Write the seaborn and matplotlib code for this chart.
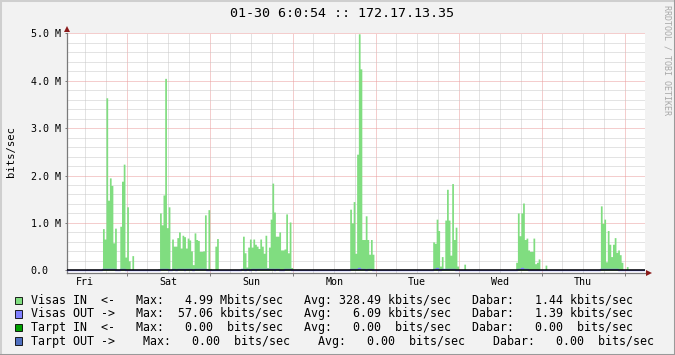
import numpy as np
import pandas as pd
import matplotlib
matplotlib.use("Agg")
import matplotlib.pyplot as plt
from matplotlib.patches import Rectangle
from matplotlib.lines import Line2D
from matplotlib.ticker import FixedLocator, FixedFormatter, MultipleLocator
import seaborn as sns

# ---------------- data (hours since first Friday 00:00, 30-min samples, Mbit/s) -------------
TITLE = "01-30 6:0:54 :: 172.17.13.35"
Y_LABEL = "bits/sec"
WATERMARK = "RRDTOOL / TOBI OETIKER"
day_labels = ["Fri", "Sat", "Sun", "Mon", "Tue", "Wed", "Thu"]
day_noons = [12, 36, 60, 84, 108, 132, 156]
y_ticks = [0, 1, 2, 3, 4, 5]
y_tick_labels = ["0.0", "1.0 M", "2.0 M", "3.0 M", "4.0 M", "5.0 M"]

fri_start = 17.0
fri_in = [0.88, 0.66, 3.64, 1.48, 1.95, 1.79, 0.58, 0.89, 0, 0, 0.93, 1.88, 2.24, 0.28, 1.34, 0.20, 0, 0.31]
fri_out = [0.03, 0.03, 0.03, 0.03, 0.03, 0.03, 0.03, 0, 0, 0, 0.03, 0.03, 0.03, 0, 0, 0, 0, 0]
sat_start = 33.0
sat_in = [0.03, 1.21, 0.96, 1.59, 4.05, 0.90, 1.34, 0, 0.66, 0.51, 0.51, 0.69, 0.81, 0.47, 0.74, 0.71, 0.47,
          0.68, 0.64, 0.41, 0.12, 0.79, 0.65, 0.63, 0.40, 0.40, 0.41, 1.17, 0.04, 1.28, 0.04, 0, 0, 0.51, 0.67]
sat_out = [0, 0.03, 0.03, 0.03, 0.03, 0.03, 0, 0, 0.03, 0.03, 0, 0.03, 0.03, 0.03, 0.03, 0, 0.03, 0.03,
           0.03, 0.03, 0, 0.03, 0.03, 0.03, 0.03, 0.03, 0.03, 0.03, 0, 0, 0, 0, 0, 0, 0]
sun_start = 57.0
sun_in = [0.04, 0.72, 0.37, 0.07, 0.49, 0.66, 0.49, 0.66, 0.55, 0.51, 0.46, 0.66, 0.51, 0.36, 0.74, 0.06,
          0.49, 1.08, 1.84, 1.23, 0.72, 0.72, 0.81, 0.43, 0.43, 0.45, 1.19, 0.37, 1.02, 0.06]
sun_out = [0.03, 0.03, 0, 0.03, 0.03, 0, 0.03, 0.03, 0, 0.03, 0.03, 0.03, 0.03, 0.03, 0.03, 0.03,
           0.03, 0.03, 0.03, 0, 0.03, 0.03, 0, 0, 0, 0.03, 0.03, 0.03, 0.03, 0]
mon_start = 88.5
mon_in = [1.29, 1.00, 1.45, 0.36, 2.45, 4.99, 4.25, 0.65, 0.65, 1.15, 0.65, 0.34, 0.65, 0.34]
mon_out = [0.03, 0.03, 0.03, 0.03, 0.03, 0.057, 0.03, 0.03, 0.03, 0, 0.03, 0.03, 0.03, 0]
tue_start = 112.5
tue_in = [0.60, 0.57, 1.08, 0.84, 0.09, 0.29, 0.03, 1.06, 1.71, 1.06, 0.32, 1.83, 0.65, 0.91, 0.09, 0, 0, 0, 0.13]
tue_out = [0.03, 0.03, 0.04, 0, 0, 0.03, 0.03, 0.03, 0.03, 0.03, 0.03, 0.03, 0.03, 0, 0, 0, 0, 0, 0]
wed_start = 136.5
wed_in = [0.17, 1.21, 0.73, 1.21, 1.42, 0.65, 0.68, 0.43, 0.40, 0.40, 0.68, 0.14, 0.17, 0.24, 0, 0, 0, 0.11]
wed_out = [0, 0.03, 0.03, 0.04, 0.03, 0.03, 0.03, 0, 0, 0, 0, 0, 0, 0, 0, 0, 0, 0]
thu_start = 161.0
thu_in = [1.36, 0.99, 1.08, 0.18, 0.84, 0.55, 0.29, 0.55, 0.69, 0.38, 0.43, 0.33, 0.17, 0, 0, 0.08]
thu_out = [0.03, 0.03, 0.03, 0.03, 0.03, 0.03, 0.03, 0.03, 0.03, 0.03, 0, 0, 0, 0, 0, 0]

legend_names = ["Visas IN  <-", "Visas OUT ->", "Tarpt IN  <-", "Tarpt OUT ->"]
legend_max = [4.99, 57.06, 0.00, 0.00]
legend_avg = [328.49, 6.09, 0.00, 0.00]
legend_last = [1.44, 1.39, 0.00, 0.00]
legend_max_unit = ["M", "k", " ", " "]
legend_avg_unit = ["k", "k", " ", " "]
legend_last_unit = ["k", "k", " ", " "]

# ---------------- styling ----------------
BG = "#f2f2f2"
GREEN = "#80dd80"
BLUE = "#8080ff"
DGREEN = "#00a000"
DBLUE = "#5070c0"
legend_colors = [GREEN, BLUE, DGREEN, DBLUE]
MINOR_GRID = "#c8c8c8"
MAJOR_GRID = "#eb9c9c"
AXIS_GRAY = "#7a7a7a"
ARROW_RED = "#8b1a1a"
MONO = "DejaVu Sans Mono"

W, H = 675, 355
fig = plt.figure(figsize=(W / 100, H / 100), dpi=100, facecolor=BG)

ax_l, ax_r, ax_t, ax_b = 66.7, 645.0, 33.3, 272.7
ax = fig.add_axes([ax_l / W, 1 - ax_b / H, (ax_r - ax_l) / W, (ax_b - ax_t) / H])
ax.set_facecolor("white")

# ---------------- build series on 30-minute grid ----------------
t_grid = np.arange(6.5, 174.0, 0.5)
in_all = np.zeros_like(t_grid)
out_all = np.zeros_like(t_grid)
for start, vin, vout in [(fri_start, fri_in, fri_out), (sat_start, sat_in, sat_out),
                         (sun_start, sun_in, sun_out), (mon_start, mon_in, mon_out),
                         (tue_start, tue_in, tue_out), (wed_start, wed_in, wed_out),
                         (thu_start, thu_in, thu_out)]:
    i0 = int(round((start - t_grid[0]) / 0.5))
    in_all[i0:i0 + len(vin)] = vin
    out_all[i0:i0 + len(vout)] = vout

df = pd.DataFrame({"t": t_grid, "tc": t_grid + 0.25, "visas_in": in_all, "visas_out": out_all})

sns.histplot(data=df, x="tc", weights="visas_in", binwidth=0.5,
             binrange=(float(t_grid[0]), float(t_grid[-1] + 0.5)), element="step", fill=True,
             color=GREEN, alpha=1, linewidth=0, antialiased=False, ax=ax, zorder=2)
sns.lineplot(data=df, x="t", y="visas_out", drawstyle="steps-post", color=BLUE,
             linewidth=1.0, ax=ax, zorder=3, legend=False)
ax.axhline(0, color="black", lw=1.1, zorder=4)

ax.set_xlim(6.65, 173.9)
ax.set_ylim(-0.05, 5.0)
ax.set_xlabel("")
ax.set_ylabel("")

# ---------------- grid ----------------
six_hours = [h for h in range(6, 175, 6) if 6.65 <= h <= 173.9 and h % 24 != 0]
midnights = [h for h in range(24, 175, 24)]
x_labels = [day_labels[day_noons.index(h)] if h in day_noons else "" for h in six_hours]
ax.xaxis.set_major_locator(FixedLocator(six_hours))
ax.xaxis.set_major_formatter(FixedFormatter(x_labels))
ax.xaxis.set_minor_locator(FixedLocator(midnights))
ax.yaxis.set_major_locator(FixedLocator(y_ticks))
ax.yaxis.set_major_formatter(FixedFormatter(y_tick_labels))
ax.yaxis.set_minor_locator(MultipleLocator(0.2))

ax.set_axisbelow(True)
ax.grid(which="major", axis="x", color=MINOR_GRID, lw=0.72, linestyle=(0, (1, 1)))
ax.grid(which="minor", axis="x", color=MAJOR_GRID, lw=0.72, linestyle=(0, (1, 1)))
ax.grid(which="minor", axis="y", color=MINOR_GRID, lw=0.72, linestyle=(0, (1, 1)))
ax.grid(which="major", axis="y", color=MAJOR_GRID, lw=0.72, linestyle=(0, (1, 1)))

ax.tick_params(axis="x", which="major", length=0, pad=3, labelsize=7.2, colors="black")
ax.tick_params(axis="x", which="minor", length=2.2, color=AXIS_GRAY, width=0.7)
ax.tick_params(axis="y", which="major", length=1.5, width=0.7, color=AXIS_GRAY,
               pad=24.4, labelsize=7.2)
ax.tick_params(axis="y", which="minor", length=0)
for lab in ax.get_xticklabels() + ax.get_yticklabels():
    lab.set_fontfamily(MONO)
for lab in ax.get_yticklabels():
    lab.set_horizontalalignment("left")

for s in ["top", "right"]:
    ax.spines[s].set_visible(False)
for s in ["left", "bottom"]:
    ax.spines[s].set_color(AXIS_GRAY)
    ax.spines[s].set_linewidth(0.9)

# axis arrows
ax.plot([0], [1.019], marker="^", ms=4.6, color=ARROW_RED, transform=ax.transAxes, clip_on=False,
        markeredgewidth=0)
ax.plot([1.0074], [0.0], marker=">", ms=4.6, color=ARROW_RED, transform=ax.transAxes, clip_on=False,
        markeredgewidth=0)

# ---------------- texts ----------------
fig.text(341.5 / W, 1 - 13.8 / H, TITLE, ha="center", va="center", fontsize=9.6, family=MONO)
fig.text(11 / W, 1 - 151.7 / H, Y_LABEL, ha="center", va="center", rotation=90, fontsize=7.6, family=MONO)
fig.text(666.5 / W, 1 - 5 / H, WATERMARK, ha="center", va="top", rotation=270, fontsize=6.0,
         family=MONO, color="#a8a8a8")

# ---------------- legend ----------------
row_y = [300.5, 314.0, 327.5, 341.0]
row_gap = [3, 3, 3, 4]
for i in range(4):
    g = " " * row_gap[i]
    s = (f"{legend_names[i]}{g}Max:{legend_max[i]:7.2f} {legend_max_unit[i]}bits/sec"
         f"{g}Avg:{legend_avg[i]:7.2f} {legend_avg_unit[i]}bits/sec"
         f"{g}Dabar:{legend_last[i]:7.2f} {legend_last_unit[i]}bits/sec")
    fig.text(31 / W, 1 - row_y[i] / H, s, ha="left", va="center", fontsize=8.42, family=MONO)
    fig.add_artist(Rectangle((15 / W, 1 - (row_y[i] + 3.7) / H), 7.4 / W, 7.4 / H,
                             transform=fig.transFigure, facecolor=legend_colors[i],
                             edgecolor="black", lw=0.6))

# ---------------- border ----------------
for (x0, y0, x1, y1, c) in [(0, 1, 1, 1, "#cfcfcf"), (0, 0, 0, 1, "#cfcfcf"),
                            (0, 0, 1, 0, "#9a9a9a"), (1, 0, 1, 1, "#9a9a9a")]:
    fig.add_artist(Line2D([x0, x1], [y0, y1], transform=fig.transFigure, color=c, lw=2.2))

fig.savefig("out.png", dpi=100, facecolor=BG)
